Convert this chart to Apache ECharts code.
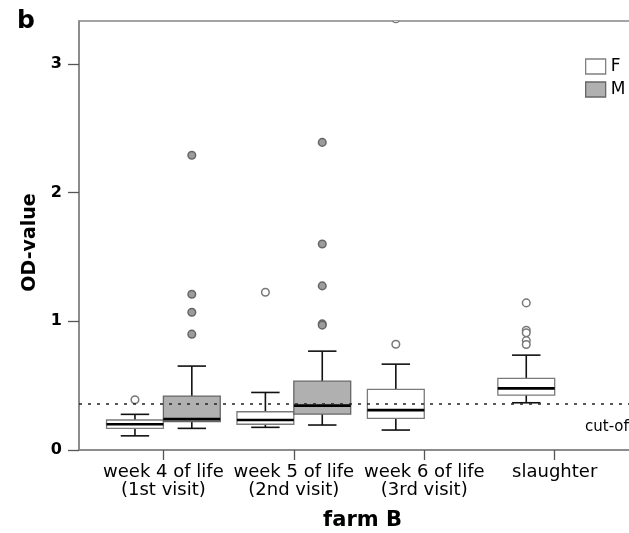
<!DOCTYPE html>
<html>
<head>
<meta charset="utf-8">
<script src="https://cdn.jsdelivr.net/npm/echarts@6/dist/echarts.min.js"></script>
<style>html,body{margin:0;padding:0;background:#fff;}#chart{width:629px;height:533px;}</style>
</head>
<body>
<div id="chart"></div>
<script>
// ---- data ----
const categories = ['week 4 of life\n(1st visit)', 'week 5 of life\n(2nd visit)', 'week 6 of life\n(3rd visit)', 'slaughter'];
const yTicks = [0, 1, 2, 3];
const cutoff = 0.36;

// F (female) box statistics per category
const lowF  = [0.110, 0.176, 0.155, 0.367];
const q1F   = [0.168, 0.200, 0.246, 0.427];
const medF  = [0.200, 0.233, 0.310, 0.479];
const q3F   = [0.233, 0.297, 0.471, 0.556];
const highF = [0.277, 0.447, 0.667, 0.737];
const outF  = [[0.39], [1.226], [0.822, 3.35], [1.143, 0.93, 0.91, 0.85, 0.82]];

// M (male) box statistics (only first two categories)
const lowM  = [0.168, 0.194];
const q1M   = [0.220, 0.279];
const medM  = [0.240, 0.345];
const q3M   = [0.419, 0.535];
const highM = [0.652, 0.768];
const outM  = [[2.29, 1.21, 1.07, 0.90], [2.39, 1.60, 1.275, 0.98, 0.97]];

// ---- layout constants ----
const BOX_HALF = 0.218;          // half box width in category units
const OFF_F = -BOX_HALF, OFF_M = BOX_HALF;

function boxData(lo, q1, med, q3, hi, off) {
  return lo.map((v, i) => [i + off, lo[i], q1[i], med[i], q3[i], hi[i]]);
}
function outData(outs, off) {
  const arr = [];
  outs.forEach((list, i) => list.forEach(v => arr.push([i + off, v])));
  return arr;
}

function makeRender(fill, stroke) {
  return function (params, api) {
    const x = api.value(0);
    const lo = api.coord([x, api.value(1)]);
    const q1 = api.coord([x, api.value(2)]);
    const md = api.coord([x, api.value(3)]);
    const q3 = api.coord([x, api.value(4)]);
    const hi = api.coord([x, api.value(5)]);
    const hw = api.size([BOX_HALF, 0])[0];
    const cx = lo[0];
    const cap = hw / 2;
    const ws = {stroke: '#111', lineWidth: 1.6};
    return {
      type: 'group',
      children: [
        {type: 'line', shape: {x1: cx, y1: q3[1], x2: cx, y2: hi[1]}, style: ws},
        {type: 'line', shape: {x1: cx, y1: q1[1], x2: cx, y2: lo[1]}, style: ws},
        {type: 'line', shape: {x1: cx - cap, y1: hi[1], x2: cx + cap, y2: hi[1]}, style: ws},
        {type: 'line', shape: {x1: cx - cap, y1: lo[1], x2: cx + cap, y2: lo[1]}, style: ws},
        {type: 'rect', shape: {x: cx - hw, y: q3[1], width: 2 * hw, height: q1[1] - q3[1]},
          style: {fill: fill, stroke: stroke, lineWidth: 1.3}},
        {type: 'line', shape: {x1: cx - hw, y1: md[1], x2: cx + hw, y2: md[1]},
          style: {stroke: '#000', lineWidth: 2.6}}
      ]
    };
  };
}

function makeOutlier(fill, stroke) {
  return function (params, api) {
    const p = api.coord([api.value(0), api.value(1)]);
    return {type: 'circle', shape: {cx: p[0], cy: p[1], r: 3.8},
      style: {fill: fill, stroke: stroke, lineWidth: 1.5}};
  };
}

const chart = echarts.init(document.getElementById('chart'), null, {renderer: 'canvas'});
const option = {
  animation: false,
  backgroundColor: '#fff',
  grid: {left: 79, top: 21, right: -17, bottom: 83, show: true, borderColor: '#858585', borderWidth: 1.5,
         backgroundColor: 'transparent', containLabel: false, outerBoundsMode: 'none'},
  legend: {
    left: 585, top: 58, orient: 'vertical', itemWidth: 20, itemHeight: 15, itemGap: 6, padding: 0,
    selectedMode: false,
    textStyle: {fontFamily: 'DejaVu Sans', fontSize: 17, color: '#000'},
    data: [
      {name: 'F', icon: 'rect', itemStyle: {color: '#fff', borderColor: '#808080', borderWidth: 1.3}},
      {name: 'M', icon: 'rect', itemStyle: {color: '#b0b0b0', borderColor: '#666', borderWidth: 1.3}}
    ]
  },
  xAxis: {
    type: 'value', min: -0.647, max: 3.7,
    name: 'farm B', nameLocation: 'middle', nameGap: 60,
    nameTextStyle: {fontFamily: 'DejaVu Sans', fontWeight: 'bold', fontSize: 21, color: '#000'},
    splitLine: {show: false},
    axisLine: {show: true, onZero: false, lineStyle: {color: '#858585', width: 1.5}},
    axisTick: {show: true, length: 10, customValues: [0, 1, 2, 3], lineStyle: {color: '#555', width: 1.3}},
    axisLabel: {
      customValues: [0, 1, 2, 3], margin: 13,
      formatter: v => categories[Math.round(v)],
      fontFamily: 'DejaVu Sans', fontSize: 18, lineHeight: 18, color: '#000'
    }
  },
  yAxis: {
    type: 'value', min: 0, max: 3.333, interval: 1,
    name: 'OD-value', nameLocation: 'middle', nameGap: 38, nameRotate: 90,
    nameTextStyle: {fontFamily: 'DejaVu Sans', fontWeight: 'bold', fontSize: 19, color: '#000', padding: [0, 14, 0, 0]},
    splitLine: {show: false},
    axisLine: {show: true, onZero: false, lineStyle: {color: '#858585', width: 1.5}},
    axisTick: {show: true, length: 11, customValues: yTicks, lineStyle: {color: '#555', width: 1.3}},
    axisLabel: {
      customValues: yTicks, margin: 17,
      formatter: v => String(Math.round(v)),
      fontFamily: 'DejaVu Sans', fontWeight: 'bold', fontSize: 16, color: '#000'
    }
  },
  graphic: [
    {type: 'text', left: 17, top: 9, style: {text: 'b', font: 'bold 25px "DejaVu Sans"', fill: '#000'}},
    {type: 'text', left: 585, top: 420, style: {text: 'cut-off', font: '15px "DejaVu Sans"', fill: '#000'}}
  ],
  series: [
    {
      name: 'F', type: 'custom', clip: true,
      renderItem: makeRender('#ffffff', '#7a7a7a'),
      encode: {x: 0, y: [1, 2, 3, 4, 5]},
      data: boxData(lowF, q1F, medF, q3F, highF, OFF_F),
      z: 2
    },
    {
      name: 'M', type: 'custom', clip: true,
      renderItem: makeRender('#b0b0b0', '#666666'),
      encode: {x: 0, y: [1, 2, 3, 4, 5]},
      data: boxData(lowM, q1M, medM, q3M, highM, OFF_M),
      z: 2
    },
    {
      name: 'F', type: 'custom', clip: true,
      renderItem: makeOutlier('#ffffff', '#777777'),
      encode: {x: 0, y: 1},
      data: outData(outF, OFF_F),
      z: 3,
      markLine: {
        silent: true, symbol: 'none',
        label: {show: false},
        lineStyle: {color: '#222', type: [3, 6], width: 1.5},
        data: [{yAxis: cutoff}],
        z: 4
      }
    },
    {
      name: 'M', type: 'custom', clip: true,
      renderItem: makeOutlier('#9c9c9c', '#666666'),
      encode: {x: 0, y: 1},
      data: outData(outM, OFF_M),
      z: 3
    }
  ]
};
chart.setOption(option);
</script>
</body>
</html>
